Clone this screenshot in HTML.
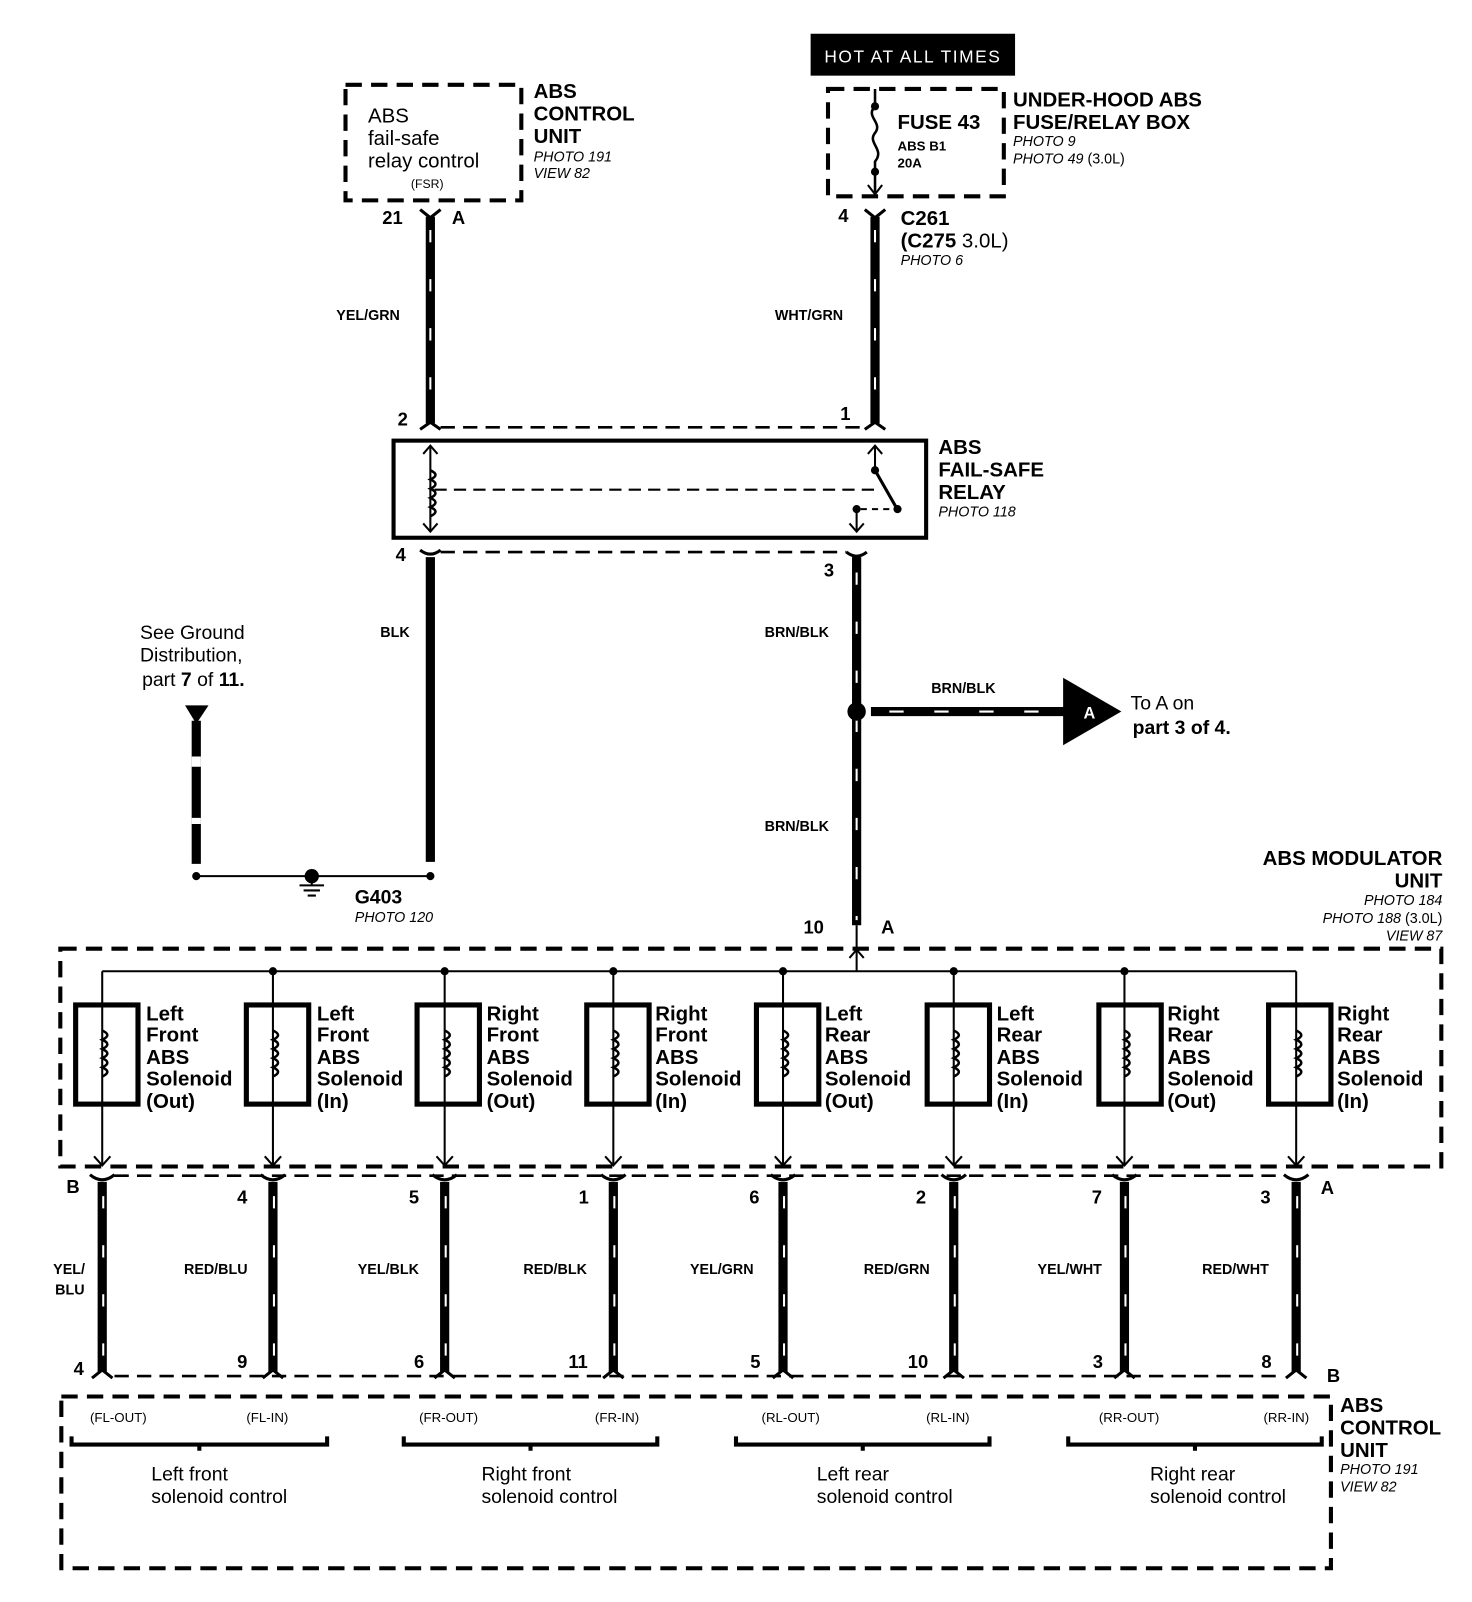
<!DOCTYPE html>
<html><head><meta charset="utf-8"><style>
html,body{margin:0;padding:0;background:#fff}
svg{display:block}
text{font-family:"Liberation Sans",sans-serif;fill:#000}
.b{font-weight:bold}
.i{font-style:italic}
</style></head><body>
<svg width="1472" height="1602" viewBox="0 0 1440 1567" preserveAspectRatio="none" xmlns="http://www.w3.org/2000/svg">
<defs>
<g id="coil"><path d="M0,-22 q10,4.5 0,9 q10,4.5 0,9 q10,4.5 0,9 q10,4.5 0,9 q10,4.5 0,9" fill="none" stroke="#000" stroke-width="2.5"/></g>
</defs>
<g fill="none" stroke="#000">
<rect x="338" y="83" width="172" height="113" stroke-width="4" stroke-dasharray="16 9"/>
<rect x="810" y="87" width="172" height="105" stroke-width="4" stroke-dasharray="16 9"/>
<path d="M856,87 V104 M856,104 c-10,10 8,16 0,26 c-8,10 10,16 0,28 V188" stroke-width="2.5"/>
<path d="M849,181 l7,9 l7,-9" stroke-width="2"/>
<g stroke-width="9"><path d="M421,212 V414"/><path d="M856,212 V414"/><path d="M421,545 V843"/><path d="M838,545 V905"/><path d="M852,696 H1042"/><path d="M192,705 V845"/></g>
<g stroke="#fff" stroke-width="2" stroke-dasharray="12 36"><path d="M421,225 V410"/><path d="M856,225 V410"/><path d="M838,560 V900"/><path d="M870,696 H1040" stroke-dasharray="14 30"/></g>
<path d="M192,740 V750 M192,800 V806" stroke="#fff" stroke-width="9"/>
<g stroke-width="3"><path d="M411,205 l10,8 l10,-8"/><path d="M846,205 l10,8 l10,-8"/><path d="M411,420 l10,-7 l10,7"/><path d="M846,420 l10,-7 l10,7"/><path d="M411,538 q10,8 20,0"/><path d="M828,540 q10,8 20,0"/></g>
<path d="M431,418 H846 M431,540 H828" stroke-width="2.5" stroke-dasharray="14 8"/>
<rect x="385" y="431" width="521" height="95" stroke-width="4"/>
<path d="M421,436 V520 M856,436 V460 M838,500 V520" stroke-width="2"/>
<g stroke-width="2"><path d="M414,444 l7,-8 l7,8"/><path d="M414,512 l7,8 l7,-8"/><path d="M849,444 l7,-8 l7,8"/><path d="M831,512 l7,8 l7,-8"/></g>
<use href="#coil" x="421" y="482"/>
<path d="M425,479 H860" stroke-width="2" stroke-dasharray="12 7"/>
<path d="M856,460 L876,495" stroke-width="3"/>
<path d="M842,498 H870" stroke-width="2" stroke-dasharray="6 5"/>
<path d="M192,857 H421" stroke-width="2"/>
<path d="M305,857 V866 M293,866 H317 M297,871 H313 M301,876 H309" stroke-width="2"/>
<rect x="59" y="928" width="1351" height="213" stroke-width="4" stroke-dasharray="16 9"/>
<path d="M100,950 H1268" stroke-width="2"/>
<path d="M838,905 V950" stroke-width="2"/>
<path d="M831,937 l7,-8 l7,8" stroke-width="2"/>
<g stroke-width="5">
<rect x="74" y="983" width="61" height="97"/><rect x="241" y="983" width="61" height="97"/><rect x="408" y="983" width="61" height="97"/><rect x="574" y="983" width="61" height="97"/><rect x="740" y="983" width="61" height="97"/><rect x="907" y="983" width="61" height="97"/><rect x="1075" y="983" width="61" height="97"/><rect x="1241" y="983" width="61" height="97"/>
</g>
<g stroke-width="2">
<path d="M100,950 V1140 M267,950 V1140 M435,950 V1140 M600,950 V1140 M766,950 V1140 M933,950 V1140 M1100,950 V1140 M1268,950 V1140"/>
<path d="M92,1131 l8,9 l8,-9 M259,1131 l8,9 l8,-9 M427,1131 l8,9 l8,-9 M592,1131 l8,9 l8,-9 M758,1131 l8,9 l8,-9 M925,1131 l8,9 l8,-9 M1092,1131 l8,9 l8,-9 M1260,1131 l8,9 l8,-9"/>
</g>
<use href="#coil" x="100" y="1030"/><use href="#coil" x="267" y="1030"/><use href="#coil" x="435" y="1030"/><use href="#coil" x="600" y="1030"/><use href="#coil" x="766" y="1030"/><use href="#coil" x="933" y="1030"/><use href="#coil" x="1100" y="1030"/><use href="#coil" x="1268" y="1030"/>
<g stroke-width="9"><path d="M100,1156 V1342 M267,1156 V1342 M435,1156 V1342 M600,1156 V1342 M766,1156 V1342 M933,1156 V1342 M1100,1156 V1342 M1268,1156 V1342"/></g>
<g stroke="#fff" stroke-width="2" stroke-dasharray="12 36"><path d="M101,1170 V1335 M268,1170 V1335 M436,1170 V1335 M601,1170 V1335 M767,1170 V1335 M934,1170 V1335 M1101,1170 V1335 M1269,1170 V1335"/></g>
<g stroke-width="3"><path d="M88,1149 q12,10 24,0 M255,1149 q12,10 24,0 M423,1149 q12,10 24,0 M588,1149 q12,10 24,0 M754,1149 q12,10 24,0 M921,1149 q12,10 24,0 M1088,1149 q12,10 24,0 M1256,1149 q12,10 24,0"/>
<path d="M90,1348 l10,-8 l10,8 M257,1348 l10,-8 l10,8 M425,1348 l10,-8 l10,8 M590,1348 l10,-8 l10,8 M756,1348 l10,-8 l10,8 M923,1348 l10,-8 l10,8 M1090,1348 l10,-8 l10,8 M1258,1348 l10,-8 l10,8"/></g>
<path d="M112,1150 H1256 M112,1346 H1256" stroke-width="2.5" stroke-dasharray="14 8"/>
<rect x="60" y="1366" width="1242" height="168" stroke-width="4" stroke-dasharray="16 9"/>
<g stroke-width="4"><path d="M70,1405 v8 H320 v-8 M195,1413 v6"/><path d="M395,1405 v8 H643 v-8 M519,1413 v6"/><path d="M720,1405 v8 H968 v-8 M844,1413 v6"/><path d="M1045,1405 v8 H1293 v-8 M1169,1413 v6"/></g>
</g>
<rect x="793" y="33" width="200" height="41" fill="#000"/>
<text x="893" y="61" fill="#fff" style="fill:#fff" font-size="17" text-anchor="middle" letter-spacing="1.5">HOT AT ALL TIMES</text>
<circle cx="856" cy="104" r="4"/><circle cx="856" cy="168" r="4"/>
<circle cx="856" cy="460" r="4"/><circle cx="878" cy="498" r="4"/><circle cx="838" cy="498" r="4"/>
<circle cx="838" cy="696" r="9"/>
<polygon points="1040,663 1097,696 1040,729"/>
<text x="1060" y="703" font-size="16" fill="#fff" style="fill:#fff" class="b">A</text>
<polygon points="181,690 204,690 192,708"/>
<circle cx="192" cy="857" r="4"/><circle cx="421" cy="857" r="4"/><circle cx="305" cy="857" r="7"/>
<g><circle cx="267" cy="950" r="4"/><circle cx="435" cy="950" r="4"/><circle cx="600" cy="950" r="4"/><circle cx="766" cy="950" r="4"/><circle cx="933" cy="950" r="4"/><circle cx="1100" cy="950" r="4"/></g>
<g font-size="20">
<text x="360" y="120">ABS</text><text x="360" y="142">fail-safe</text><text x="360" y="164">relay control</text>
</g>
<text x="402" y="184" font-size="12">(FSR)</text>
<g class="b" font-size="20"><text x="522" y="96">ABS</text><text x="522" y="118">CONTROL</text><text x="522" y="140">UNIT</text></g>
<g class="i" font-size="14"><text x="522" y="158">PHOTO 191</text><text x="522" y="174">VIEW 82</text></g>
<text x="878" y="126" class="b" font-size="20">FUSE 43</text>
<text x="878" y="147" class="b" font-size="13">ABS B1</text><text x="878" y="164" class="b" font-size="13">20A</text>
<g class="b" font-size="20"><text x="991" y="104">UNDER-HOOD ABS</text><text x="991" y="126">FUSE/RELAY BOX</text></g>
<g font-size="14"><text x="991" y="143" class="i">PHOTO 9</text><text x="991" y="160"><tspan class="i">PHOTO 49</tspan> (3.0L)</text></g>
<g class="b" font-size="18"><text x="374" y="219">21</text><text x="442" y="219">A</text><text x="820" y="217">4</text><text x="389" y="416">2</text><text x="822" y="411">1</text><text x="387" y="549">4</text><text x="806" y="564">3</text><text x="786" y="913">10</text><text x="862" y="913">A</text></g>
<text x="881" y="220" class="b" font-size="20">C261</text>
<text x="881" y="242" font-size="20"><tspan class="b">(C275</tspan> 3.0L)</text>
<text x="881" y="259" class="i" font-size="14">PHOTO 6</text>
<g class="b" font-size="14"><text x="329" y="313">YEL/GRN</text><text x="758" y="313">WHT/GRN</text><text x="372" y="623">BLK</text><text x="748" y="623">BRN/BLK</text><text x="911" y="678">BRN/BLK</text><text x="748" y="813">BRN/BLK</text></g>
<g class="b" font-size="20"><text x="918" y="444">ABS</text><text x="918" y="466">FAIL-SAFE</text><text x="918" y="488">RELAY</text></g>
<text x="918" y="505" class="i" font-size="14">PHOTO 118</text>
<text x="137" y="625" font-size="19">See Ground</text><text x="137" y="647" font-size="19">Distribution,</text><text x="139" y="671" font-size="19" class="b"><tspan font-weight="normal">part</tspan> 7 <tspan font-weight="normal">of</tspan> 11.</text>
<text x="1106" y="694" font-size="19">To A on</text><text x="1108" y="718" font-size="19" class="b">part 3 of 4.</text>
<text x="347" y="884" class="b" font-size="19">G403</text><text x="347" y="902" class="i" font-size="14">PHOTO 120</text>
<g class="b" font-size="20" text-anchor="end"><text x="1411" y="846">ABS MODULATOR</text><text x="1411" y="868">UNIT</text></g>
<g class="i" font-size="14" text-anchor="end"><text x="1411" y="885">PHOTO 184</text><text x="1411" y="903">PHOTO 188 <tspan font-style="normal">(3.0L)</tspan></text><text x="1411" y="920">VIEW 87</text></g>
<g class="b" font-size="20">
<text x="143" y="998">Left</text><text x="143" y="1019">Front</text><text x="143" y="1041">ABS</text><text x="143" y="1062">Solenoid</text><text x="143" y="1084">(Out)</text>
<text x="310" y="998">Left</text><text x="310" y="1019">Front</text><text x="310" y="1041">ABS</text><text x="310" y="1062">Solenoid</text><text x="310" y="1084">(In)</text>
<text x="476" y="998">Right</text><text x="476" y="1019">Front</text><text x="476" y="1041">ABS</text><text x="476" y="1062">Solenoid</text><text x="476" y="1084">(Out)</text>
<text x="641" y="998">Right</text><text x="641" y="1019">Front</text><text x="641" y="1041">ABS</text><text x="641" y="1062">Solenoid</text><text x="641" y="1084">(In)</text>
<text x="807" y="998">Left</text><text x="807" y="1019">Rear</text><text x="807" y="1041">ABS</text><text x="807" y="1062">Solenoid</text><text x="807" y="1084">(Out)</text>
<text x="975" y="998">Left</text><text x="975" y="1019">Rear</text><text x="975" y="1041">ABS</text><text x="975" y="1062">Solenoid</text><text x="975" y="1084">(In)</text>
<text x="1142" y="998">Right</text><text x="1142" y="1019">Rear</text><text x="1142" y="1041">ABS</text><text x="1142" y="1062">Solenoid</text><text x="1142" y="1084">(Out)</text>
<text x="1308" y="998">Right</text><text x="1308" y="1019">Rear</text><text x="1308" y="1041">ABS</text><text x="1308" y="1062">Solenoid</text><text x="1308" y="1084">(In)</text>
</g>
<g class="b" font-size="18">
<text x="65" y="1167">B</text><text x="232" y="1177">4</text><text x="400" y="1177">5</text><text x="566" y="1177">1</text><text x="733" y="1177">6</text><text x="896" y="1177">2</text><text x="1068" y="1177">7</text><text x="1233" y="1177">3</text><text x="1292" y="1168">A</text>
<text x="72" y="1345">4</text><text x="232" y="1338">9</text><text x="405" y="1338">6</text><text x="556" y="1338">11</text><text x="734" y="1338">5</text><text x="888" y="1338">10</text><text x="1069" y="1338">3</text><text x="1234" y="1338">8</text><text x="1298" y="1352">B</text>
</g>
<g class="b" font-size="14"><text x="52" y="1246">YEL/</text><text x="54" y="1266">BLU</text><text x="180" y="1246">RED/BLU</text><text x="350" y="1246">YEL/BLK</text><text x="512" y="1246">RED/BLK</text><text x="675" y="1246">YEL/GRN</text><text x="845" y="1246">RED/GRN</text><text x="1015" y="1246">YEL/WHT</text><text x="1176" y="1246">RED/WHT</text></g>
<g font-size="13"><text x="88" y="1391">(FL-OUT)</text><text x="241" y="1391">(FL-IN)</text><text x="410" y="1391">(FR-OUT)</text><text x="582" y="1391">(FR-IN)</text><text x="745" y="1391">(RL-OUT)</text><text x="906" y="1391">(RL-IN)</text><text x="1075" y="1391">(RR-OUT)</text><text x="1236" y="1391">(RR-IN)</text></g>
<g font-size="19"><text x="148" y="1448">Left front</text><text x="148" y="1470">solenoid control</text><text x="471" y="1448">Right front</text><text x="471" y="1470">solenoid control</text><text x="799" y="1448">Left rear</text><text x="799" y="1470">solenoid control</text><text x="1125" y="1448">Right rear</text><text x="1125" y="1470">solenoid control</text></g>
<g class="b" font-size="20"><text x="1311" y="1381">ABS</text><text x="1311" y="1403">CONTROL</text><text x="1311" y="1425">UNIT</text></g>
<g class="i" font-size="14"><text x="1311" y="1442">PHOTO 191</text><text x="1311" y="1459">VIEW 82</text></g>
</svg>
</body></html>
